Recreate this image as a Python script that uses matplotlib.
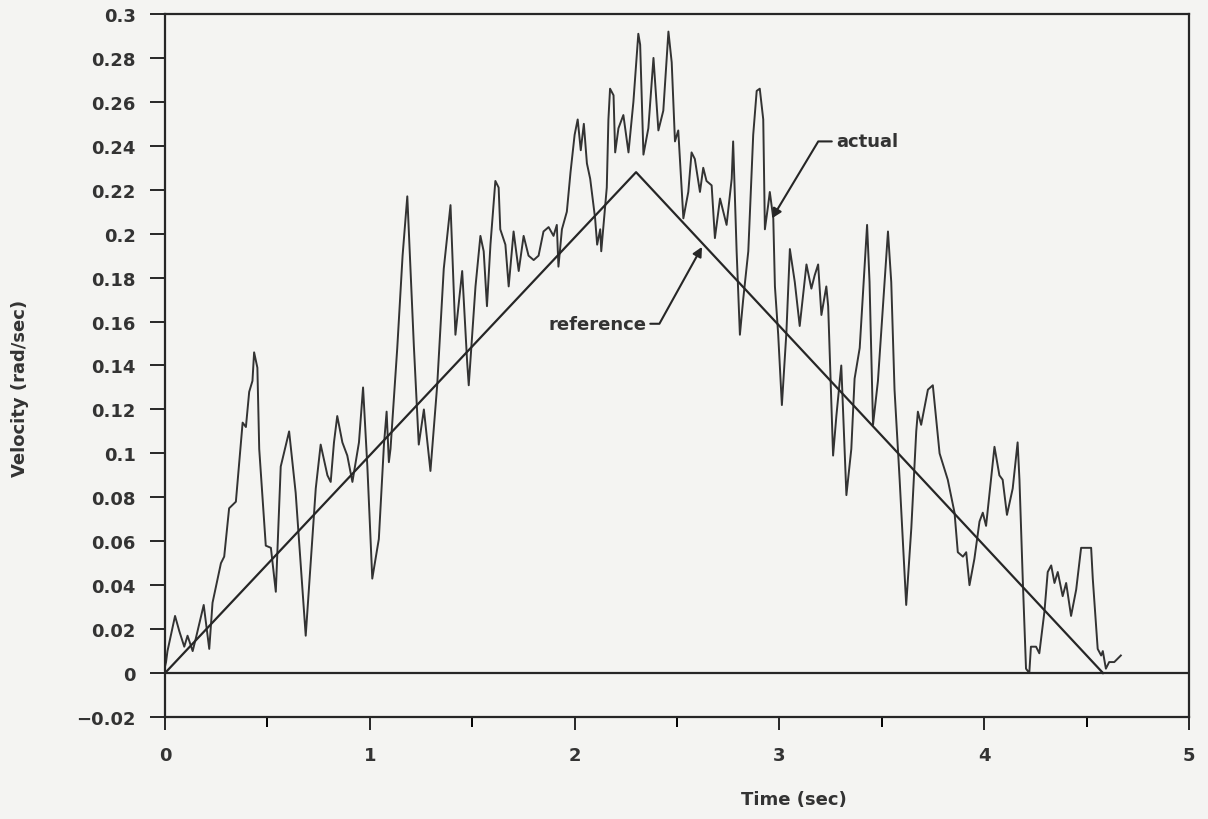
import matplotlib
matplotlib.use('Agg')
import matplotlib.pyplot as plt
import numpy as np

# reference velocity profile (triangle)
ref_t = [0.0, 2.3, 4.58]
ref_v = [0.0, 0.228, 0.0]

act_t = [0.0, 0.005, 0.012, 0.049, 0.07, 0.094, 0.11, 0.135, 0.151, 0.189,
         0.216, 0.232, 0.273, 0.289, 0.313, 0.346, 0.379, 0.395, 0.411, 0.427,
         0.435, 0.451, 0.46, 0.492, 0.517, 0.541, 0.565, 0.606, 0.638, 0.687,
         0.736, 0.76, 0.793, 0.809, 0.825, 0.841, 0.866, 0.89, 0.915, 0.947,
         0.967, 0.988, 1.012, 1.044, 1.069, 1.082, 1.093, 1.101, 1.134, 1.16,
         1.183, 1.215, 1.239, 1.264, 1.296, 1.329, 1.361, 1.394, 1.418, 1.451,
         1.475, 1.483, 1.516, 1.54, 1.556, 1.572, 1.589, 1.613, 1.629, 1.637,
         1.662, 1.678, 1.702, 1.727, 1.751, 1.775, 1.8, 1.824, 1.848, 1.873,
         1.897, 1.913, 1.921, 1.938, 1.962, 1.98, 2.0, 2.015, 2.03, 2.045,
         2.06, 2.076, 2.1, 2.11, 2.125, 2.13, 2.157, 2.165, 2.173, 2.19,
         2.198, 2.214, 2.238, 2.263, 2.287, 2.311, 2.32, 2.336, 2.36, 2.385,
         2.409, 2.433, 2.458, 2.474, 2.49, 2.506, 2.531, 2.555, 2.571, 2.587,
         2.612, 2.628, 2.644, 2.669, 2.685, 2.71, 2.742, 2.767, 2.774, 2.791,
         2.807, 2.823, 2.848, 2.872, 2.889, 2.904, 2.921, 2.929, 2.945, 2.953,
         2.97, 2.978, 2.994, 3.012, 3.034, 3.051, 3.075, 3.099, 3.132, 3.156,
         3.172, 3.189, 3.205, 3.229, 3.238, 3.262, 3.278, 3.302, 3.327, 3.351,
         3.367, 3.392, 3.428, 3.44, 3.457, 3.481, 3.53, 3.546, 3.562, 3.587,
         3.619, 3.644, 3.668, 3.676, 3.692, 3.725, 3.749, 3.782, 3.822, 3.855,
         3.871, 3.896, 3.912, 3.928, 3.952, 3.977, 3.993, 4.009, 4.025, 4.05,
         4.074, 4.09, 4.111, 4.139, 4.163, 4.172, 4.188, 4.204, 4.22, 4.228,
         4.253, 4.269, 4.294, 4.31, 4.327, 4.343, 4.359, 4.383, 4.4, 4.424,
         4.449, 4.473, 4.522, 4.53, 4.554, 4.571, 4.579, 4.594, 4.61, 4.635,
         4.667]
act_v = [0.003, 0.005, 0.010, 0.026, 0.019, 0.012, 0.017, 0.010, 0.016, 0.031,
         0.011, 0.032, 0.050, 0.053, 0.075, 0.078, 0.114, 0.112, 0.128, 0.133,
         0.146, 0.139, 0.102, 0.058, 0.057, 0.037, 0.094, 0.110, 0.082, 0.017,
         0.084, 0.104, 0.090, 0.087, 0.105, 0.117, 0.105, 0.099, 0.087, 0.105,
         0.130, 0.094, 0.043, 0.061, 0.104, 0.119, 0.096, 0.102, 0.148, 0.190,
         0.217, 0.149, 0.104, 0.120, 0.092, 0.131, 0.184, 0.213, 0.154, 0.183,
         0.142, 0.131, 0.176, 0.199, 0.192, 0.167, 0.195, 0.224, 0.221, 0.202,
         0.195, 0.176, 0.201, 0.183, 0.199, 0.190, 0.188, 0.190, 0.201, 0.203,
         0.199, 0.204, 0.185, 0.202, 0.210, 0.228, 0.245, 0.252, 0.238, 0.250,
         0.232, 0.225, 0.207, 0.195, 0.202, 0.192, 0.221, 0.252, 0.266, 0.263,
         0.237, 0.248, 0.254, 0.237, 0.260, 0.291, 0.286, 0.236, 0.248, 0.280,
         0.247, 0.256, 0.292, 0.278, 0.242, 0.247, 0.207, 0.219, 0.237, 0.234,
         0.219, 0.230, 0.224, 0.222, 0.198, 0.216, 0.204, 0.225, 0.242, 0.192,
         0.154, 0.170, 0.192, 0.245, 0.265, 0.266, 0.252, 0.202, 0.213, 0.219,
         0.207, 0.176, 0.154, 0.122, 0.155, 0.193, 0.178, 0.158, 0.186, 0.175,
         0.181, 0.186, 0.163, 0.176, 0.167, 0.099, 0.117, 0.140, 0.081, 0.102,
         0.134, 0.148, 0.204, 0.178, 0.113, 0.133, 0.201, 0.178, 0.129, 0.088,
         0.031, 0.066, 0.110, 0.119, 0.113, 0.129, 0.131, 0.100, 0.088, 0.073,
         0.055, 0.053, 0.055, 0.040, 0.052, 0.069, 0.073, 0.067, 0.081, 0.103,
         0.090, 0.088, 0.072, 0.084, 0.105, 0.088, 0.043, 0.002, 0.000, 0.012,
         0.012, 0.009, 0.028, 0.046, 0.049, 0.041, 0.046, 0.035, 0.041, 0.026,
         0.038, 0.057, 0.057, 0.043, 0.011, 0.008, 0.010, 0.002, 0.005, 0.005,
         0.008]

y_ticks = [-0.02, 0, 0.02, 0.04, 0.06, 0.08, 0.1, 0.12, 0.14, 0.16, 0.18,
           0.2, 0.22, 0.24, 0.26, 0.28, 0.3]
y_tick_labels = ['\u22120.02', '0', '0.02', '0.04', '0.06', '0.08', '0.1',
                 '0.12', '0.14', '0.16', '0.18', '0.2', '0.22', '0.24', '0.26',
                 '0.28', '0.3']
x_ticks = [0, 1, 2, 3, 4, 5]

ink = '#333333'
dark = '#262626'
paper = '#f4f4f2'
fs = 13

plt.rcParams['font.family'] = 'DejaVu Sans'

fig = plt.figure(figsize=(12.08, 8.2), dpi=100, facecolor=paper)
ax = fig.add_axes([0.1366, 0.1244, 0.8477, 0.8573])
ax.set_facecolor(paper)

ax.plot(act_t, act_v, color=ink, lw=1.4)
ax.plot(ref_t, ref_v, color=dark, lw=1.6)
ax.axhline(0, color=dark, lw=1.6)

ax.set_xlim(0, 5)
ax.set_ylim(-0.02, 0.3)

ax.set_yticks(y_ticks)
ax.set_yticklabels(y_tick_labels)
ax.set_xticks(x_ticks)
ax.set_xticks(np.arange(0.5, 5, 1.0), minor=True)

for s in ax.spines.values():
    s.set_color(dark)
    s.set_linewidth(1.6)

ax.tick_params(axis='y', direction='out', length=11, width=1.4, pad=10,
               colors=dark, labelsize=fs, labelcolor=ink)
ax.tick_params(axis='x', which='major', direction='out', length=9, width=1.4,
               pad=12, colors=dark, labelsize=fs, labelcolor=ink)
ax.tick_params(axis='x', which='minor', direction='out', length=7, width=1.4)
for lbl in ax.get_xticklabels() + ax.get_yticklabels():
    lbl.set_fontweight('bold')

ax.set_xlabel('Time (sec)', fontsize=fs, fontweight='bold', color=ink)
ax.set_ylabel('Velocity (rad/sec)', fontsize=fs, fontweight='bold', color=ink)
ax.xaxis.set_label_coords(0.614, -0.104)
ax.yaxis.set_label_coords(-0.133, 0.469)

arrow = dict(arrowstyle='-|>', color=dark, lw=1.5, mutation_scale=14,
             shrinkA=1, shrinkB=0)
ax.annotate('actual', xy=(2.964, 0.207), xytext=(3.276, 0.242),
            ha='left', va='center', fontsize=fs, fontweight='bold',
            color=ink,
            arrowprops=dict(connectionstyle='angle,angleA=0,angleB=59,rad=0',
                            **arrow))
ax.annotate('reference', xy=(2.622, 0.194), xytext=(2.349, 0.159),
            ha='right', va='center', fontsize=fs, fontweight='bold',
            color=ink,
            arrowprops=dict(connectionstyle='angle,angleA=0,angleB=61,rad=0',
                            **arrow))

fig.savefig('out.png', dpi=100, facecolor=paper)
